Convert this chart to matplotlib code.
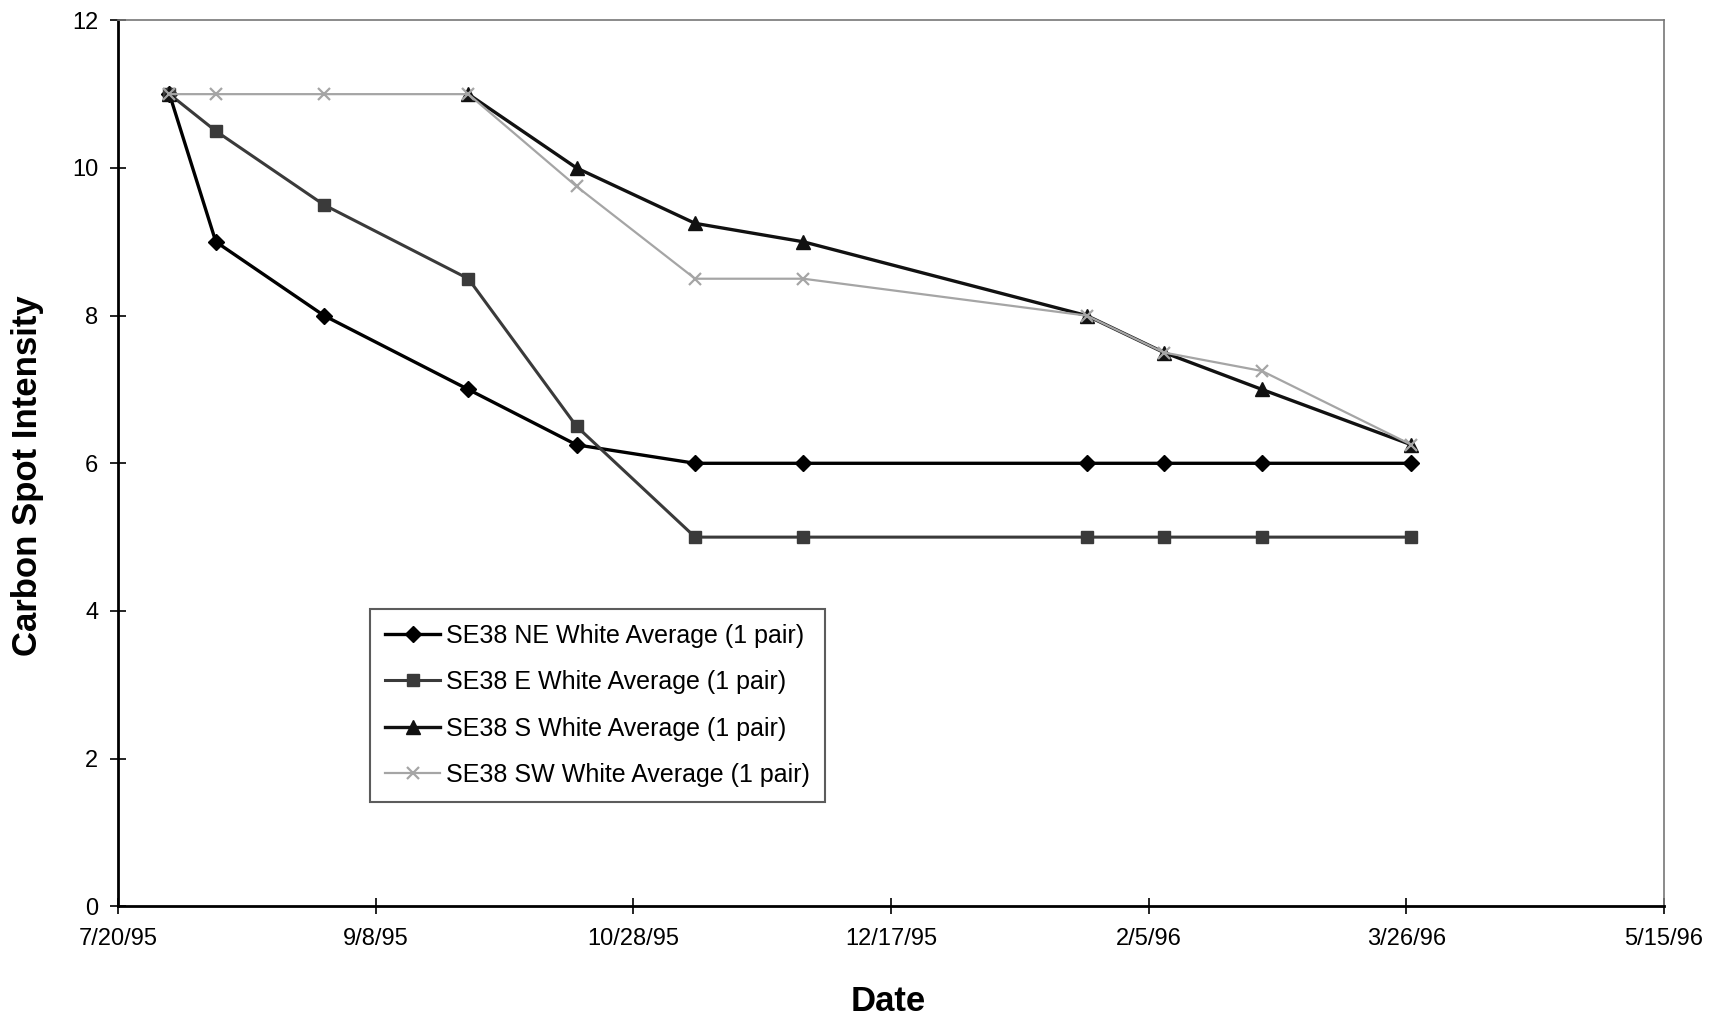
import datetime as dt
import numpy as np
import matplotlib
matplotlib.use("Agg")
import matplotlib.pyplot as plt
import matplotlib.dates as mdates

plt.rcParams['font.family'] = ['Liberation Sans Narrow', 'Liberation Sans', 'DejaVu Sans']

dates = ["1995-07-30", "1995-08-08", "1995-08-29", "1995-09-26", "1995-10-17",
         "1995-11-09", "1995-11-30", "1996-01-24", "1996-02-08", "1996-02-27",
         "1996-03-27"]
ne_white = [11, 9, 8, 7, 6.25, 6, 6, 6, 6, 6, 6]
e_white = [11, 10.5, 9.5, 8.5, 6.5, 5, 5, 5, 5, 5, 5]
s_white = [11, np.nan, np.nan, 11, 10, 9.25, 9, 8, 7.5, 7, 6.25]
sw_white = [11, 11, 11, 11, 9.75, 8.5, 8.5, 8, 7.5, 7.25, 6.25]

labels = ["SE38 NE White Average (1 pair)", "SE38 E White Average (1 pair)",
          "SE38 S White Average (1 pair)", "SE38 SW White Average (1 pair)"]

x = [dt.datetime.strptime(d, "%Y-%m-%d") for d in dates]

fig = plt.figure(figsize=(17.19, 10.16), dpi=100)
ax = fig.add_axes([0.0686, 0.108, 0.8994, 0.872])

ax.plot(x, ne_white, color="black", lw=2.4, marker="D", ms=8, label=labels[0])
ax.plot(x, e_white, color="#3a3a3a", lw=2.2, marker="s", ms=9, label=labels[1])
ax.plot(x, s_white, color="#111111", lw=2.4, marker="^", ms=10, label=labels[2])
ax.plot(x, sw_white, color="#a5a5a5", lw=1.6, marker="x", ms=9, mew=1.6,
        label=labels[3])

start = dt.datetime(1995, 7, 20)
ticks = [start + dt.timedelta(days=50 * i) for i in range(7)]
ax.set_xlim(start, ticks[-1])
ax.set_xticks(ticks)
ax.xaxis.set_major_formatter(
    matplotlib.ticker.FuncFormatter(
        lambda v, p: "{d.month}/{d.day}/{y}".format(
            d=mdates.num2date(v), y=mdates.num2date(v).strftime("%y"))))
ax.set_ylim(0, 12)
ax.set_yticks(range(0, 13, 2))

ax.tick_params(direction="inout", length=12, width=1.2, labelsize=17)
ax.tick_params(axis="x", pad=10)
ax.tick_params(axis="y", pad=8)
for side in ("left", "bottom"):
    ax.spines[side].set_linewidth(2)
for side in ("right", "top"):
    ax.spines[side].set_linewidth(1.2)
    ax.spines[side].set_color("#777777")

ax.set_xlabel("Date", fontsize=25, fontweight="bold", family=["Liberation Sans"])
ax.set_ylabel("Carbon Spot Intensity", fontsize=25, fontweight="bold",
              family=["Liberation Sans"])
ax.xaxis.set_label_coords(0.498, -0.089)
ax.yaxis.set_label_coords(-0.048, 0.486)

leg = ax.legend(loc="upper left", bbox_to_anchor=(0.155, 0.35),
                frameon=True, fancybox=False, edgecolor="#333333",
                handlelength=2.2, handletextpad=0.25, labelspacing=0.9,
                borderpad=0.6, prop={"family": ["Liberation Sans"], "size": 18})
leg.get_frame().set_linewidth(1.5)

fig.savefig("out.png", dpi=100)
